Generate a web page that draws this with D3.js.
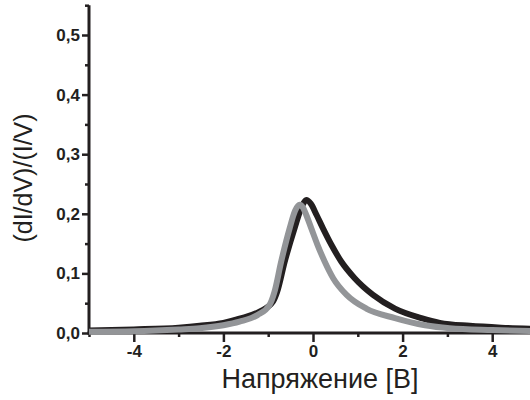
<!DOCTYPE html>
<html>
<head>
<meta charset="utf-8">
<script src="https://cdn.jsdelivr.net/npm/d3@7"></script>
<style>
  html, body { margin: 0; padding: 0; background: #fff; }
  svg { display: block; }
</style>
</head>
<body>
<svg id="chart" width="530" height="400"></svg>
<script>
// Normalised conductance (dI/dV)/(I/V) against bias voltage, two curves.
const blackV = [-5, -4, -3, -2.53, -2, -1.64, -1.19, -0.89, -0.80, -0.63, -0.41, -0.25, -0.15,
                -0.05, 0.08, 0.22, 0.41, 0.63, 0.93, 1.34, 1.83, 2.42, 2.83, 3.5, 4.2, 5];
const blackG = [0.004, 0.006, 0.009, 0.012, 0.017, 0.024, 0.036, 0.053, 0.069, 0.120, 0.176, 0.212, 0.223,
                0.217, 0.198, 0.176, 0.148, 0.120, 0.092, 0.064, 0.041, 0.025, 0.017, 0.012, 0.009, 0.007];

const grayV = [-5, -4, -3, -2.53, -2, -1.64, -1.24, -0.97, -0.86, -0.71, -0.52, -0.40, -0.30,
               -0.22, -0.15, -0.04, 0.10, 0.26, 0.45, 0.75, 1.19, 1.83, 2.5, 3.05, 4, 5];
const grayG = [0.002, 0.003, 0.006, 0.008, 0.013, 0.019, 0.030, 0.047, 0.069, 0.120, 0.176, 0.205, 0.215,
               0.210, 0.198, 0.176, 0.148, 0.120, 0.092, 0.064, 0.041, 0.025, 0.013, 0.008, 0.005, 0.003];

const xMajor = [-4, -2, 0, 2, 4];
const xMinor = [-5, -3, -1, 1, 3, 5];
const yMajor = [0, 0.1, 0.2, 0.3, 0.4, 0.5];
const yMinor = [0.05, 0.15, 0.25, 0.35, 0.45, 0.55];

const xTitle = "Напряжение [В]";
const yTitle = "(dI/dV)/(I/V)";

const ink = "#231f20";
const grey = "#939598";
const family = "Liberation Sans, Arial, Helvetica, sans-serif";

const svg = d3.select("#chart");

const x = d3.scaleLinear().domain([-5, 5]).range([89, 537]);
const y = d3.scaleLinear().domain([0, 0.55]).range([333, 5.2]);

const fmt = d => d3.format(".1f")(d).replace(".", ",");

// axes
const xAxisMajor = d3.axisBottom(x).tickValues(xMajor).tickSize(9).tickPadding(3)
  .tickFormat(d => d3.format("d")(d).replace("−", "-"));
const xAxisMinor = d3.axisBottom(x).tickValues(xMinor).tickSize(4).tickFormat("");
const yAxisMajor = d3.axisLeft(y).tickValues(yMajor).tickSize(7).tickPadding(2).tickFormat(fmt);
const yAxisMinor = d3.axisLeft(y).tickValues(yMinor).tickSize(4).tickFormat("");

function styleAxis(g) {
  g.attr("font-family", family).attr("font-size", 17).attr("font-weight", "bold");
  g.select(".domain").remove();
  g.selectAll(".tick line").attr("stroke", ink).attr("stroke-width", 2.5);
  g.selectAll(".tick text")
    .attr("fill", ink)
    .attr("font-family", family)
    .attr("font-weight", "bold")
    .attr("font-size", 17);
}

svg.append("g").attr("transform", `translate(0,${y(0)})`).call(xAxisMinor).call(styleAxis);
svg.append("g").attr("transform", `translate(0,${y(0)})`).call(xAxisMajor).call(styleAxis);
svg.append("g").attr("transform", `translate(${x(-5)},0)`).call(yAxisMinor).call(styleAxis);
svg.append("g").attr("transform", `translate(${x(-5)},0)`).call(yAxisMajor).call(styleAxis);

// axis lines
svg.append("line")
  .attr("x1", x(-5)).attr("x2", x(-5))
  .attr("y1", y(0.55)).attr("y2", y(0) + 1.5)
  .attr("stroke", ink).attr("stroke-width", 3);
svg.append("line")
  .attr("x1", x(-5) - 1.5).attr("x2", x(5))
  .attr("y1", y(0)).attr("y2", y(0))
  .attr("stroke", ink).attr("stroke-width", 3);

// curves
const line = d3.line()
  .x(d => x(d[0]))
  .y(d => y(d[1]))
  .curve(d3.curveMonotoneX);

svg.append("path")
  .datum(d3.zip(blackV, blackG))
  .attr("d", line)
  .attr("fill", "none")
  .attr("stroke", ink)
  .attr("stroke-width", 6)
  .attr("stroke-linejoin", "round");

svg.append("path")
  .datum(d3.zip(grayV, grayG))
  .attr("d", line)
  .attr("fill", "none")
  .attr("stroke", grey)
  .attr("stroke-width", 6)
  .attr("stroke-linejoin", "round");

// titles
svg.append("text")
  .attr("x", 320).attr("y", 388)
  .attr("text-anchor", "middle")
  .attr("font-family", family)
  .attr("font-size", 27)
  .attr("fill", ink)
  .text(xTitle);

svg.append("text")
  .attr("transform", "translate(31.5,178) rotate(-90)")
  .attr("text-anchor", "middle")
  .attr("font-family", family)
  .attr("font-size", 25)
  .attr("fill", ink)
  .text(yTitle);
</script>
</body>
</html>
